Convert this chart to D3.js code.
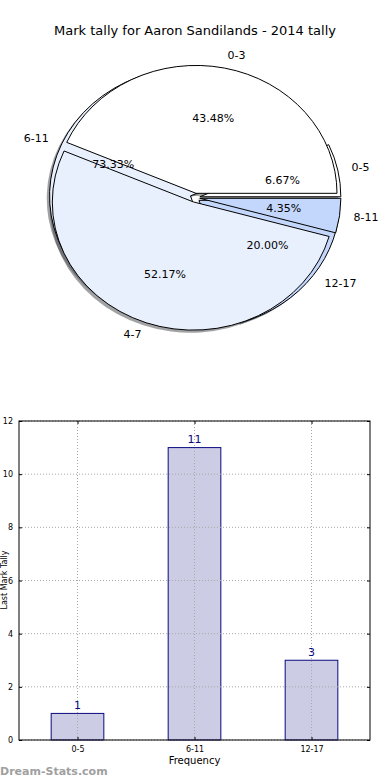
<!DOCTYPE html>
<html><head><meta charset="utf-8">
<script src="https://cdn.jsdelivr.net/npm/d3@7"></script>
<style>body{margin:0;background:#fff;}svg{display:block;font-family:"DejaVu Sans",sans-serif;}</style>
</head><body>
<svg id="c" width="390" height="780"></svg>
<script>
const title = "Mark tally for Aaron Sandilands - 2014 tally";
const pieCategories = ["0-3", "4-7", "8-11"];
const pieValues = [10, 12, 1];
const barCategories = ["0-5", "6-11", "12-17"];
const barValues = [1, 11, 3];
const sliceColors = ["#ffffff", "#e9f0fd", "#c3d6fb"];
const yTicks = [0, 2, 4, 6, 8, 10, 12];
const xLabel = "Frequency";
const yLabel = "Last Mark Tally";
const watermark = "Dream-Stats.com";

const svg = d3.select("#c");
svg.append("text").attr("x", 195).attr("y", 35).attr("text-anchor", "middle")
  .attr("font-size", 13).text(title);

// ---- pie(s) ----
const cx = 195, cy = 197.7, rx = 141, ry = 128, explode = 0.035;
const pie = d3.pie().sort(null).startAngle(Math.PI / 2).endAngle(Math.PI / 2 - 2 * Math.PI);
const arcUnit = d3.arc().innerRadius(0).outerRadius(1);
const gPie = svg.append("g");
const shadowLayer = gPie.append("g");
const wedgeLayer = gPie.append("g");
const textLayer = gPie.append("g");

function drawPie(cats, vals) {
  const total = d3.sum(vals);
  const arcs = pie(vals);
  arcs.forEach((a, i) => {
    const mid = (a.startAngle + a.endAngle) / 2;
    const ux = Math.sin(mid), uy = -Math.cos(mid);
    const ox = cx + explode * rx * ux, oy = cy + explode * ry * uy;
    const d = arcUnit(a);
    shadowLayer.append("path").attr("d", d)
      .attr("transform", `translate(${ox - 2.8},${oy + 2.6}) scale(${rx},${ry})`)
      .attr("fill", d3.color(sliceColors[i]).darker(3.5)).attr("fill-opacity", 0.5);
    wedgeLayer.append("path").attr("d", d)
      .attr("transform", `translate(${ox},${oy}) scale(${rx},${ry})`)
      .attr("fill", sliceColors[i]).attr("stroke", "#000").attr("stroke-width", 1)
      .attr("vector-effect", "non-scaling-stroke");
    textLayer.append("text")
      .attr("x", ox + 0.6 * rx * ux).attr("y", oy + 0.6 * ry * uy)
      .attr("text-anchor", "middle").attr("dominant-baseline", "central")
      .attr("font-size", 11).text(d3.format(".2f")(vals[i] / total * 100) + "%");
    textLayer.append("text")
      .attr("x", ox + 1.1 * rx * ux).attr("y", oy + 1.1 * ry * uy)
      .attr("text-anchor", ux > 0 ? "start" : "end").attr("dominant-baseline", "central")
      .attr("font-size", 11).text(cats[i]);
  });
}
drawPie(barCategories, barValues);
drawPie(pieCategories, pieValues);

// ---- bar chart ----
const L = 19, R = 370, T = 421, B = 740;
const x = d3.scalePoint().domain(barCategories).range([L, R]).padding(0.5);
const y = d3.scaleLinear().domain([0, 12]).range([B, T]);
const bw = x.step() * 0.45;
const gb = svg.append("g");
gb.selectAll("rect.bar").data(barValues).join("rect").attr("class", "bar")
  .attr("x", (d, i) => x(barCategories[i]) - bw / 2).attr("y", d => y(d))
  .attr("width", bw).attr("height", d => B - y(d))
  .attr("fill", "#ccccE4").attr("stroke", "#0a0a80").attr("stroke-width", 1);
// grid
yTicks.forEach(t => {
  gb.append("line").attr("x1", L).attr("x2", R).attr("y1", y(t)).attr("y2", y(t))
    .attr("stroke", "#a8a8a8").attr("stroke-dasharray", "1,2");
});
barCategories.forEach(c => {
  gb.append("line").attr("x1", x(c)).attr("x2", x(c)).attr("y1", T).attr("y2", B)
    .attr("stroke", "#a8a8a8").attr("stroke-dasharray", "1,2");
});
gb.append("rect").attr("x", L).attr("y", T).attr("width", R - L).attr("height", B - T)
  .attr("fill", "none").attr("stroke", "#000").attr("stroke-width", 1);
// axes
const yAxis = d3.axisLeft(y).tickValues(yTicks).tickSizeInner(-3).tickSizeOuter(0).tickPadding(6);
const ga = gb.append("g").attr("transform", `translate(${L},0)`).call(yAxis);
ga.select(".domain").remove();
ga.selectAll("text").attr("font-size", 8).attr("font-family", "DejaVu Sans");
const yAxisR = d3.axisRight(y).tickValues(yTicks).tickSizeInner(-3).tickSizeOuter(0).tickFormat("");
const gar = gb.append("g").attr("transform", `translate(${R},0)`).call(yAxisR);
gar.select(".domain").remove();
const xAxis = d3.axisBottom(x).tickSizeInner(-3).tickSizeOuter(0).tickPadding(6);
const gx = gb.append("g").attr("transform", `translate(0,${B})`).call(xAxis);
gx.select(".domain").remove();
gx.selectAll("text").attr("font-size", 8).attr("font-family", "DejaVu Sans");
const xAxisT = d3.axisTop(x).tickSizeInner(-3).tickSizeOuter(0).tickFormat("");
const gxt = gb.append("g").attr("transform", `translate(0,${T})`).call(xAxisT);
gxt.select(".domain").remove();
// value labels
gb.selectAll("text.val").data(barValues).join("text").attr("class", "val")
  .attr("x", (d, i) => x(barCategories[i])).attr("y", d => y(d) - 4.5)
  .attr("text-anchor", "middle").attr("font-size", 11).attr("fill", "#0a0a80").text(d => d);
gb.append("text").attr("x", (L + R) / 2).attr("y", 764).attr("text-anchor", "middle")
  .attr("font-size", 10).text(xLabel);
gb.append("text").attr("transform", `translate(7,580) rotate(-90)`)
  .attr("text-anchor", "middle").attr("font-size", 8).text(yLabel);
svg.append("text").attr("x", 0).attr("y", 775).attr("font-size", 11)
  .attr("font-weight", "bold").attr("fill", "#a0a0a0").text(watermark);
</script>
</body></html>
